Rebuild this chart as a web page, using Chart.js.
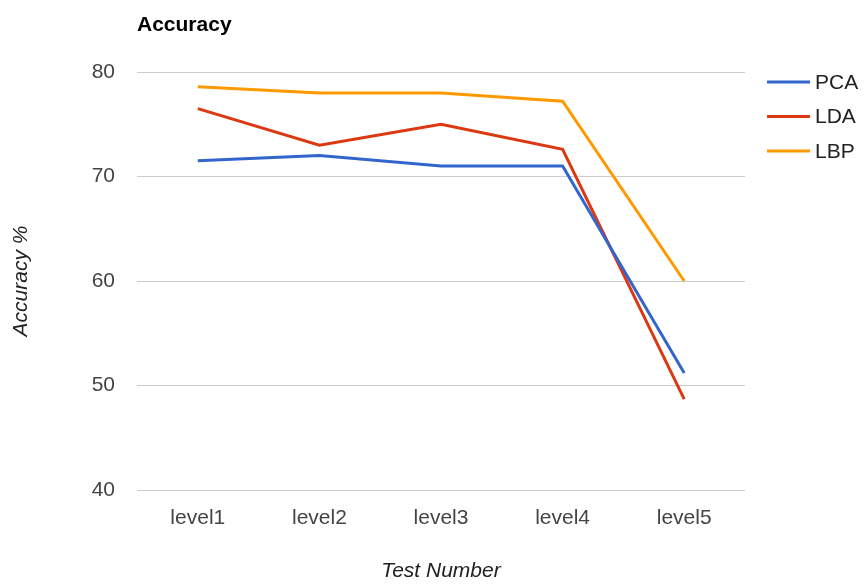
<!DOCTYPE html>
<html>
<head>
<meta charset="utf-8">
<title>Accuracy</title>
<script src="https://cdn.jsdelivr.net/npm/chart.js@4.4.1/dist/chart.umd.min.js"></script>
<style>
    html, body { margin: 0; padding: 0; background: #fff; }
    #chart { display: block; }
</style>
</head>
<body>
<canvas id="chart" width="867" height="584"></canvas>
<script>
// datos del grafico
const categories = ['level1', 'level2', 'level3', 'level4', 'level5'];
const seriesNames = ['PCA', 'LDA', 'LBP'];
const pcaValues = [71.5, 72.0, 71.0, 71.0, 51.2];
const ldaValues = [76.5, 73.0, 75.0, 72.6, 48.7];
const lbpValues = [78.6, 78.0, 78.0, 77.2, 60.0];
const yTicks = [40, 50, 60, 70, 80];
const chartTitle = 'Accuracy';
const yTitle = 'Accuracy %';
const xTitle = 'Test Number';

const colors = ['#3366cc', '#dc3912', '#ff9900'];
const FONT = '"Liberation Sans", Arial, sans-serif';

// titulo arriba a la izquierda, alineado con el area del grafico
const titlePlugin = {
    id: 'leftTitle',
    afterDraw(chart) {
        const ctx = chart.ctx;
        ctx.save();
        ctx.font = 'bold 21px ' + FONT;
        ctx.fillStyle = '#000';
        ctx.textBaseline = 'middle';
        ctx.textAlign = 'left';
        ctx.fillText(chartTitle, chart.chartArea.left, 25);
        ctx.restore();
    }
};

// leyenda a la derecha con lineas
const legendPlugin = {
    id: 'lineLegend',
    afterDraw(chart) {
        const ctx = chart.ctx;
        const x0 = chart.chartArea.right + 22;
        ctx.save();
        ctx.font = '21px ' + FONT;
        ctx.textBaseline = 'middle';
        chart.data.datasets.forEach((ds, i) => {
            const y = chart.chartArea.top + 10 + i * 34.5;
            ctx.strokeStyle = ds.borderColor;
            ctx.lineWidth = 3;
            ctx.beginPath();
            ctx.moveTo(x0, y);
            ctx.lineTo(x0 + 43, y);
            ctx.stroke();
            ctx.fillStyle = '#222';
            ctx.fillText(ds.label, x0 + 48, y + 1);
        });
        ctx.restore();
    }
};

const seriesValues = [pcaValues, ldaValues, lbpValues];

const ctx = document.getElementById('chart').getContext('2d');
const chart = new Chart(ctx, {
    type: 'line',
    data: {
        labels: categories,
        datasets: seriesNames.map((name, i) => ({
            label: name,
            data: seriesValues[i],
            borderColor: colors[i],
            backgroundColor: colors[i],
            borderWidth: 3,
            pointRadius: 0,
            tension: 0,
            fill: false
        }))
    },
    options: {
        responsive: false,
        animation: false,
        layout: {
            padding: { top: 72, right: 122, bottom: 0, left: 0 }
        },
        plugins: {
            legend: { display: false },
            tooltip: { enabled: false },
            title: { display: false }
        },
        scales: {
            x: {
                offset: true,
                afterFit: function(scale) { scale.height = 94; },
                grid: { display: false, drawTicks: false },
                border: { display: false },
                ticks: {
                    padding: 16,
                    color: '#444',
                    font: { family: FONT, size: 21 }
                },
                title: {
                    display: true,
                    text: xTitle,
                    color: '#222',
                    padding: { top: 0, bottom: 0 },
                    font: { family: FONT, size: 21, style: 'italic' }
                }
            },
            y: {
                min: 40,
                max: 80,
                afterFit: function(scale) { scale.width = 137; },
                afterBuildTicks: function(scale) {
                    scale.ticks = yTicks.map(v => ({ value: v }));
                },
                grid: { color: '#cccccc', lineWidth: 1, drawTicks: false },
                border: { display: false },
                ticks: {
                    padding: 22,
                    color: '#444',
                    font: { family: FONT, size: 21 }
                },
                title: {
                    display: true,
                    text: yTitle,
                    color: '#222',
                    padding: { top: 9, bottom: 0 },
                    font: { family: FONT, size: 21, style: 'italic' }
                }
            }
        }
    },
    plugins: [titlePlugin, legendPlugin]
});
</script>
</body>
</html>
